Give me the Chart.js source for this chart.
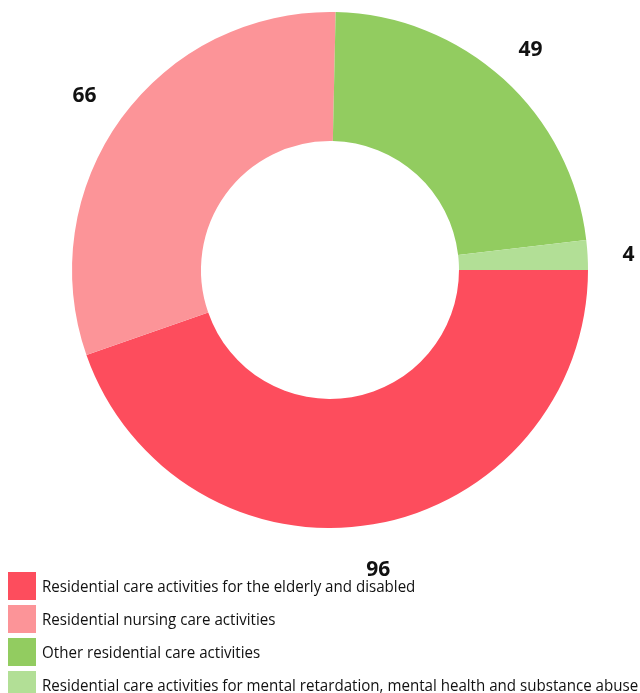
<!DOCTYPE html>
<html>
<head>
<meta charset="utf-8">
<script src="https://cdn.jsdelivr.net/npm/chart.js@4"></script>
<style>
  html, body { margin: 0; padding: 0; background: #fff; }
  #wrap { position: relative; width: 640px; height: 693px; overflow: hidden; }
  #c { position: absolute; left: 0; top: 0; }
  #legend { position: absolute; left: 8px; top: 569px; margin: 0; padding: 0; list-style: none;
            font-family: "Open Sans", "Noto Sans", sans-serif; font-size: 16px; color: #111; }
  #legend li { display: flex; align-items: center; height: 33px; white-space: nowrap; }
  #legend .box { width: 28px; height: 28px; margin-right: 6px; flex: none; }
  #legend .txt { display: inline-block; transform-origin: left center; line-height: 1; }
</style>
</head>
<body>
<div id="wrap">
  <canvas id="c" width="640" height="693"></canvas>
  <ul id="legend"></ul>
</div>
<script>
const categories = [
  "Residential care activities for the elderly and disabled",
  "Residential nursing care activities",
  "Other residential care activities",
  "Residential care activities for mental retardation, mental health and substance abuse"
];
const values = [96, 66, 49, 4];
const colors = ["#FD4D5D", "#FC9498", "#92CC60", "#B2DF96"];

const outsideLabels = {
  id: 'outsideLabels',
  afterDatasetsDraw(chart) {
    const ctx = chart.ctx;
    const meta = chart.getDatasetMeta(0);
    ctx.save();
    ctx.font = 'bold 21px "Open Sans", "Noto Sans", sans-serif';
    ctx.fillStyle = '#111';
    ctx.textAlign = 'center';
    ctx.textBaseline = 'middle';
    meta.data.forEach((arc, i) => {
      const p = arc.getProps(['x', 'y', 'startAngle', 'endAngle', 'outerRadius'], true);
      const mid = (p.startAngle + p.endAngle) / 2;
      const r = p.outerRadius + 43;
      ctx.fillText(String(values[i]), p.x + Math.cos(mid) * r - 2, p.y + Math.sin(mid) * r + 3);
    });
    ctx.restore();
  }
};

new Chart(document.getElementById('c'), {
  type: 'doughnut',
  data: {
    labels: categories,
    datasets: [{
      data: values,
      backgroundColor: colors,
      borderWidth: 0
    }]
  },
  options: {
    responsive: false,
    animation: false,
    rotation: 90,
    cutout: '50%',
    layout: { padding: { left: 72, right: 52, top: 12, bottom: 165 } },
    plugins: {
      legend: { display: false },
      tooltip: { enabled: false }
    }
  },
  plugins: [outsideLabels]
});

const ul = document.getElementById('legend');
categories.forEach((name, i) => {
  const li = document.createElement('li');
  const b = document.createElement('span');
  b.className = 'box';
  b.style.background = colors[i];
  const t = document.createElement('span');
  t.className = 'txt';
  t.textContent = name;
  li.appendChild(b);
  li.appendChild(t);
  ul.appendChild(li);
});
// fit text width to the reference's condensed face
const longest = ul.querySelectorAll('.txt')[3];
const w = longest.getBoundingClientRect().width;
const sx = 596 / w;
ul.querySelectorAll('.txt').forEach(t => { t.style.transform = 'scaleX(' + sx.toFixed(3) + ')'; });
</script>
</body>
</html>
